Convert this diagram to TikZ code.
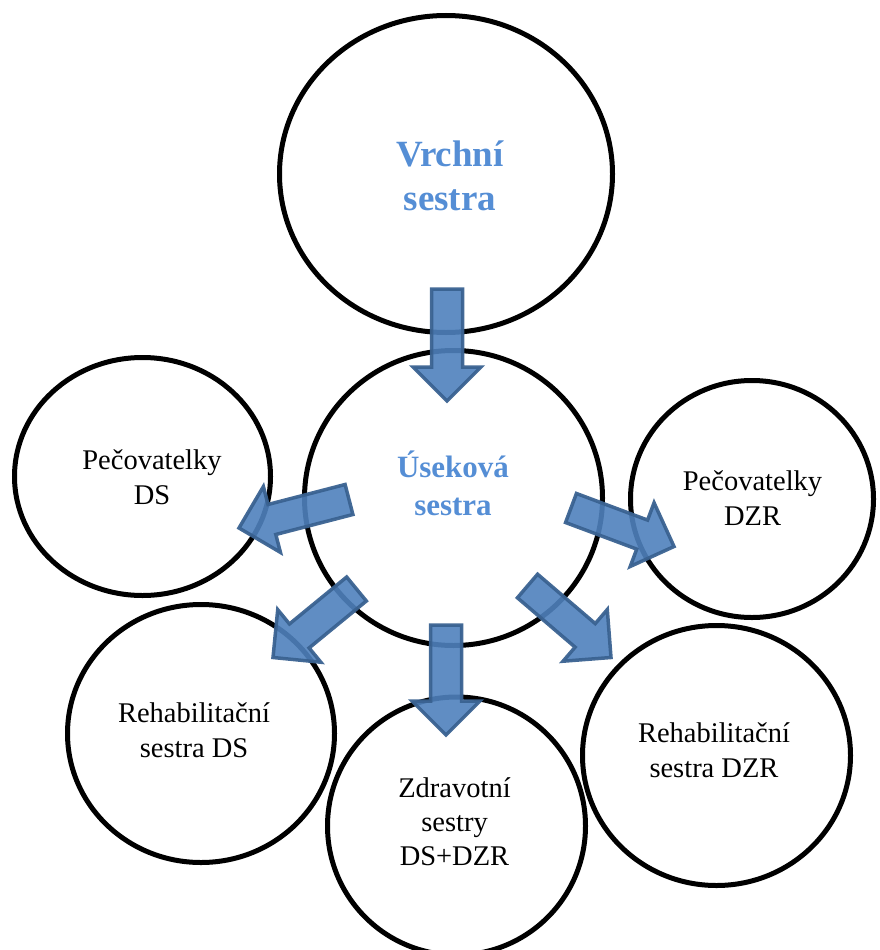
\documentclass[tikz,border=0pt]{standalone}
\usepackage{fontspec}
\setmainfont{Liberation Serif}
\usetikzlibrary{calc,shapes.geometric}
\definecolor{arrfill}{HTML}{4F81BD}
\definecolor{arrline}{HTML}{3A6291}
\definecolor{headblue}{HTML}{558ED5}
\tikzset{
  ring/.style={draw=black, line width=5pt, ellipse, inner sep=0pt},
  lbl/.style={align=center, font=\fontsize{28.5}{35}\selectfont, inner sep=0pt},
  bluelbl/.style={align=center, text=headblue, inner sep=0pt},
  blockarrow/.style={fill=arrfill, fill opacity=0.9, draw=arrline, draw opacity=0.95, line width=3.5pt, line join=miter},
}
\newcommand\barrow[2]{%
  \path ($(#2)!34pt!(#1)$) coordinate (bh);
  \draw[blockarrow] ($(#1)!15.5pt!90:(#2)$) -- ($(bh)!15.5pt!-90:(#1)$) -- ($(bh)!34pt!-90:(#1)$) -- (#2)
     -- ($(bh)!34pt!90:(#1)$) -- ($(bh)!15.5pt!90:(#1)$) -- ($(#1)!15.5pt!-90:(#2)$) -- cycle;
}
\begin{document}
\begin{tikzpicture}[x=1pt,y=-1pt]
\useasboundingbox (0,0) rectangle (879,950);
% circles
\node[ring, minimum width=333pt, minimum height=317pt] (vr) at (446,174) {};
\node[ring, minimum width=298pt, minimum height=295pt] (us) at (453.5,498) {};
\node[ring, minimum width=256pt, minimum height=238pt] (pds) at (142.5,476.5) {};
\node[ring, minimum width=243pt, minimum height=237pt] (pdzr) at (752,499) {};
\node[ring, minimum width=267pt, minimum height=258pt] (rds) at (201,733.5) {};
\node[ring, minimum width=258pt, minimum height=258pt] (zdr) at (456.5,826) {};
\node[ring, minimum width=268pt, minimum height=260pt] (rdzr) at (716.5,755.5) {};
% arrow end points
\coordinate (a1s) at (447,289);   \coordinate (a1e) at (447,401);
\coordinate (a2s) at (349,499.5); \coordinate (a2e) at (239,528);
\coordinate (a3s) at (571,508);   \coordinate (a3e) at (674,546.5);
\coordinate (a4s) at (356.5,589); \coordinate (a4e) at (273,657.5);
\coordinate (a5s) at (446,625);   \coordinate (a5e) at (446,735);
\coordinate (a6s) at (527.5,586); \coordinate (a6e) at (611,657.5);
\barrow{a1s}{a1e}
\barrow{a2s}{a2e}
\barrow{a3s}{a3e}
\barrow{a4s}{a4e}
\barrow{a5s}{a5e}
\barrow{a6s}{a6e}
% labels
\node[bluelbl, font=\bfseries\fontsize{37}{44}\selectfont] (tvr) at (450,176) {Vrchní\\sestra};
\node[bluelbl, font=\bfseries\fontsize{31}{38}\selectfont] (tus) at (453,483) {Úseková\\sestra};
\node[lbl] (tpds) at (152,477) {Pečovatelky\\DS};
\node[lbl] (tpdzr) at (752.5,498) {Pečovatelky\\DZR};
\node[lbl] (trds) at (194,730) {Rehabilitační\\sestra DS};
\node[lbl] (trdzr) at (714,750) {Rehabilitační\\sestra DZR};
\node[lbl, font=\fontsize{28.5}{34}\selectfont] (tzdr) at (454.5,822) {Zdravotní\\sestry\\DS+DZR};
\end{tikzpicture}
\end{document}
